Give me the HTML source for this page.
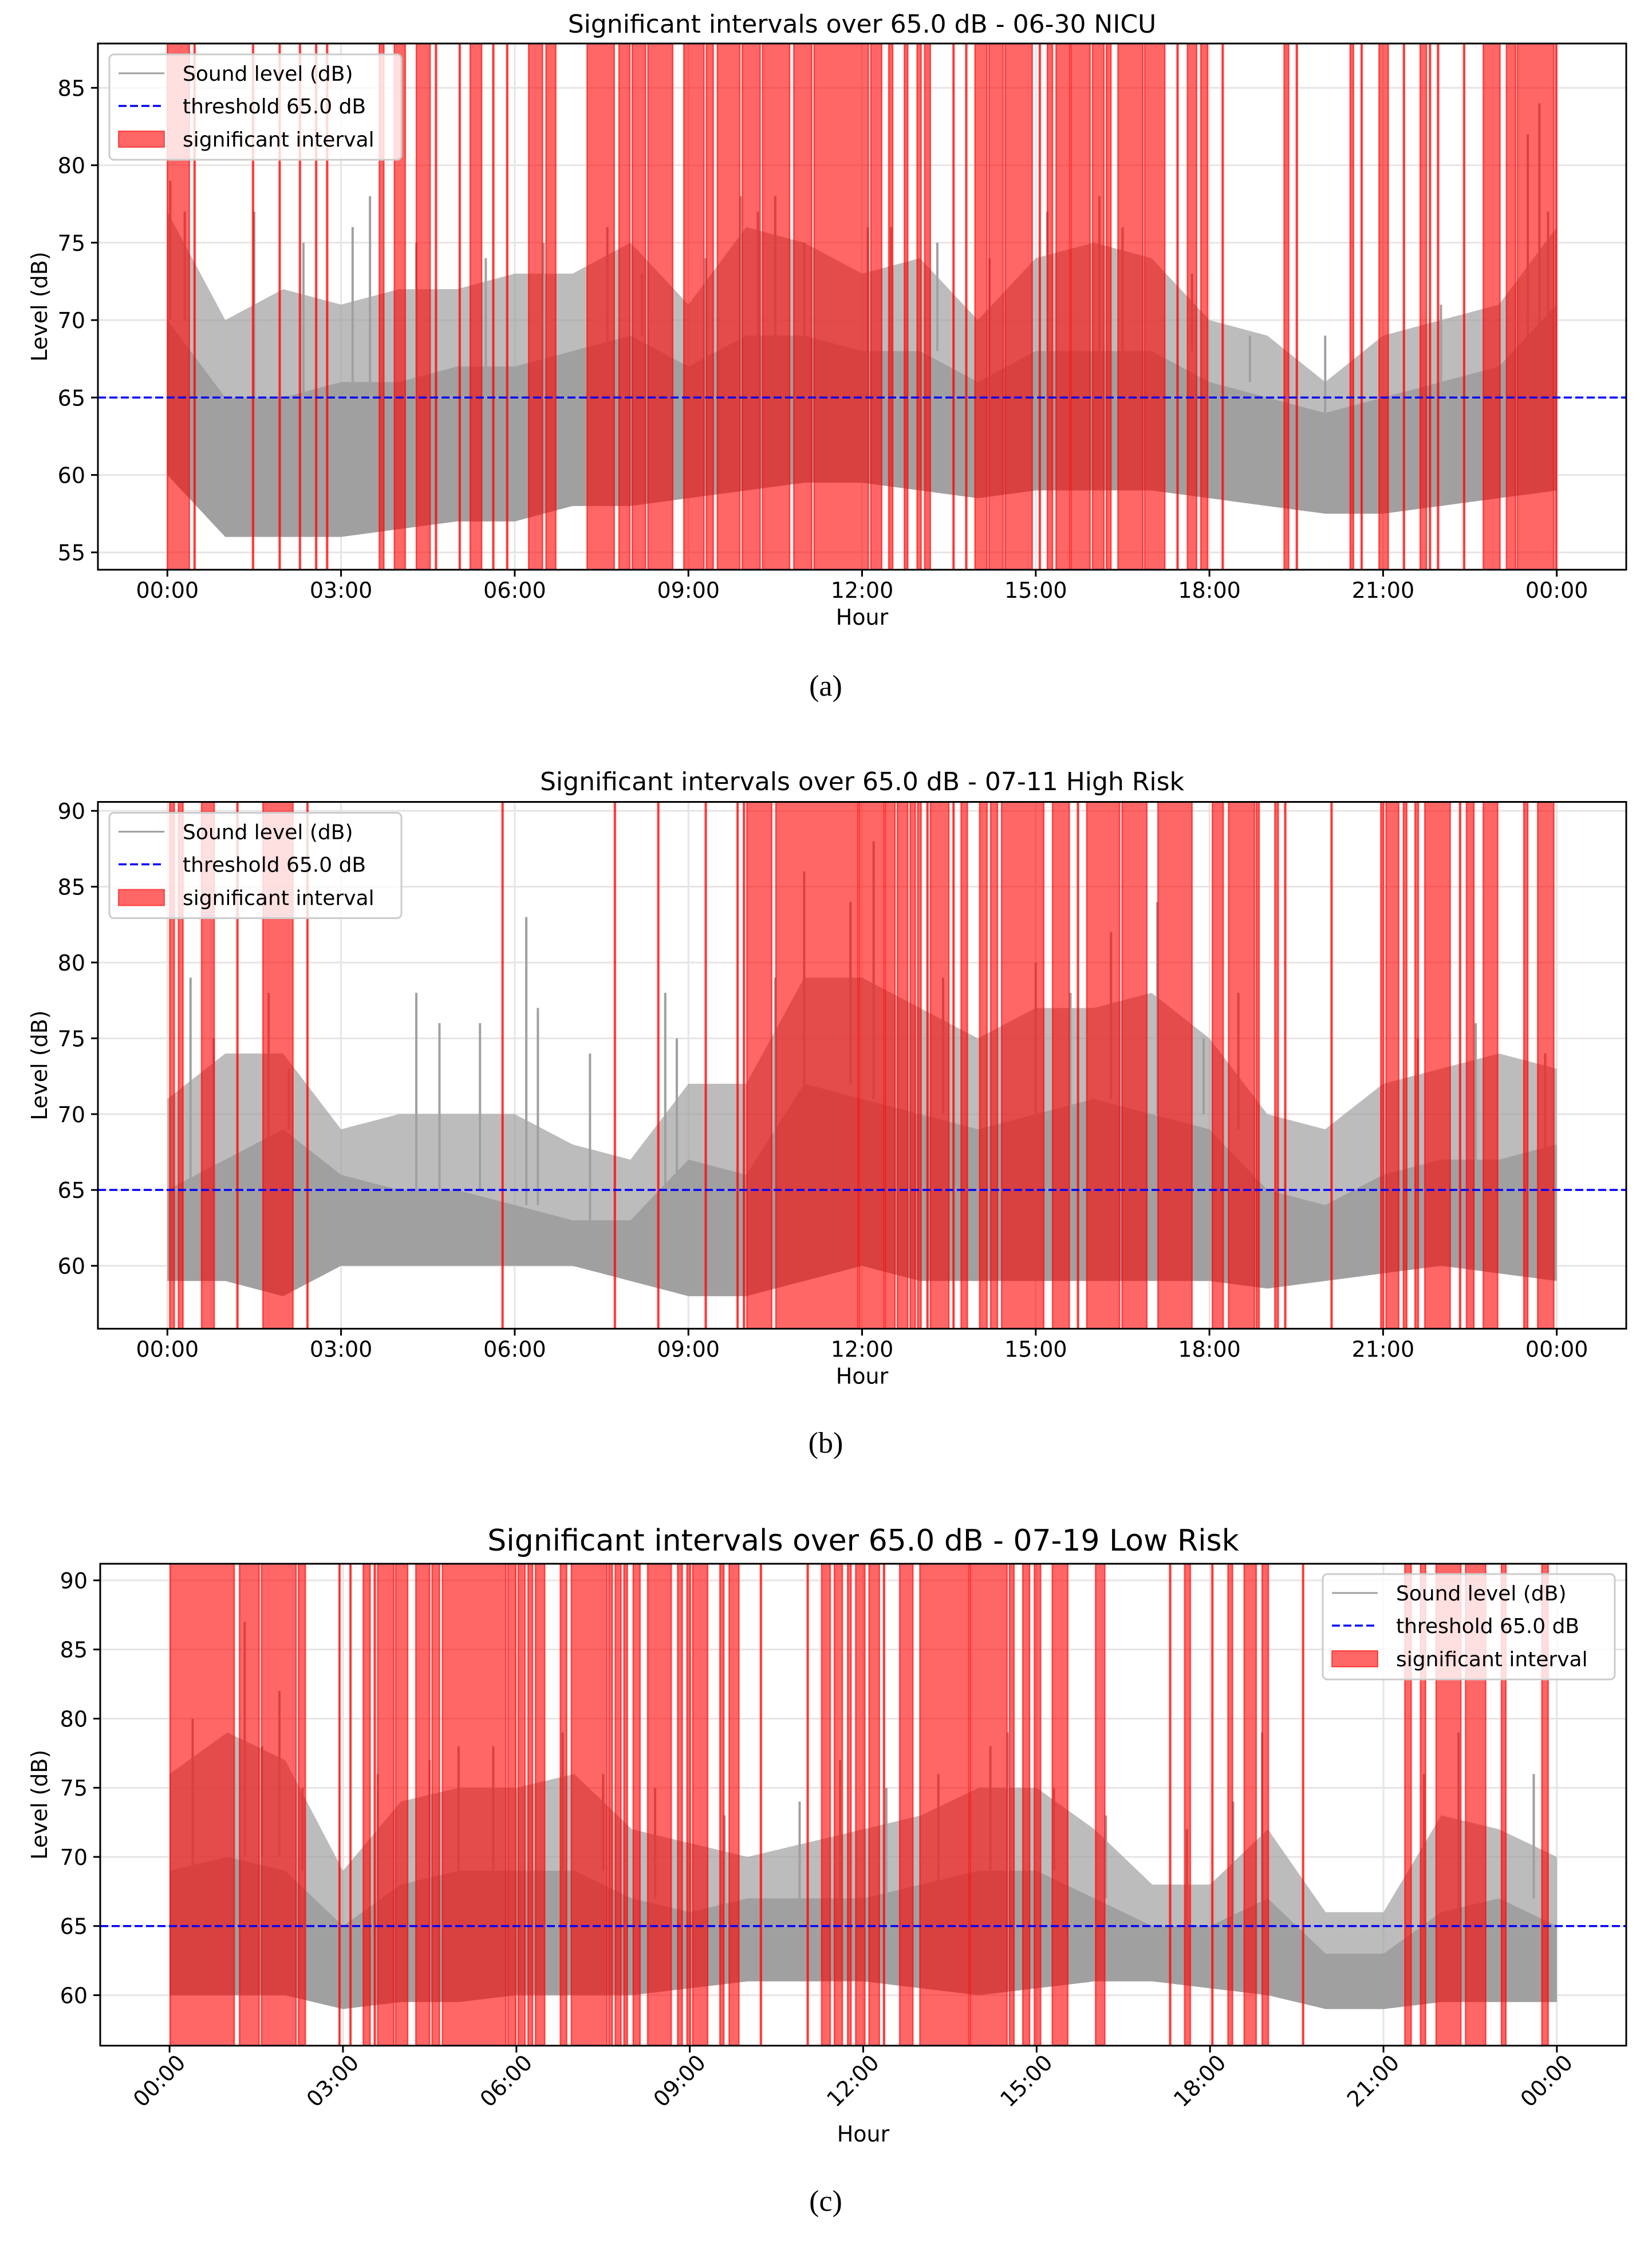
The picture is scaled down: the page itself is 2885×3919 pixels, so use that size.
<!DOCTYPE html>
<html><head><meta charset="utf-8">
<style>
html,body{margin:0;padding:0;background:#fff;}
svg{display:block;}
text{font-family:"DejaVu Sans","Liberation Sans",sans-serif;fill:#000;}
.cap{font-family:"Liberation Serif","DejaVu Serif",serif;}
</style></head>
<body>
<svg id="fig" xmlns="http://www.w3.org/2000/svg" width="2885" height="3919" viewBox="0 0 2885 3919"></svg>
<script>
// ---------- DATA ----------
const hours = [0,1,2,3,4,5,6,7,8,9,10,11,12,13,14,15,16,17,18,19,20,21,22,23,24];
const xTickLabels = ["00:00","03:00","06:00","09:00","12:00","15:00","18:00","21:00","00:00"];
const xTickHours = [0,3,6,9,12,15,18,21,24];
const threshold = 65;

// Panel (a) 06-30 NICU
const aLow  = [60,56,56,56,56.5,57,57,58,58,58.5,59,59.5,59.5,59,58.5,59,59,59,58.5,58,57.5,57.5,58,58.5,59];
const aMid  = [70,65,65,66,66,67,67,68,69,67,69,69,68,68,66,68,68,68,66,65,64,65,66,67,71];
const aHigh = [77,70,72,71,72,72,73,73,75,71,76,75,73,74,70,74,75,74,70,69,66,69,70,71,76];
const aSpikeH = [0.05,0.3,1.5,2.35,3.2,3.5,4.3,5.5,6.5,7.6,8.2,9.3,9.9,10.2,10.5,11.0,12.1,12.5,13.3,14.2,15.2,16.1,16.5,17.7,18.7,20.0,22.0,23.5,23.7,23.85];
const aSpikeV = [79,77,77,75,76,78,75,74,75,76,73,74,78,77,78,75,76,76,75,74,77,78,76,73,69,69,71,82,84,77];
const aStart = [0.0,0.46,1.47,1.93,2.28,2.56,2.75,3.66,3.92,4.30,4.63,5.04,5.23,5.62,5.86,6.24,6.54,7.25,7.80,8.03,8.30,8.92,9.31,9.50,9.93,10.28,10.82,11.17,12.15,12.46,12.73,12.95,13.08,13.57,13.79,13.95,14.19,14.47,15.06,15.20,15.35,15.61,15.98,16.22,16.42,16.88,17.44,17.62,17.85,18.22,19.29,19.50,20.43,20.62,20.93,21.35,21.64,21.80,21.94,22.39,22.73,23.13,23.32,23.98];
const aEnd   = [0.38,0.47,1.48,1.94,2.29,2.57,2.76,3.74,4.11,4.54,4.64,5.05,5.43,5.63,5.87,6.48,6.71,7.72,7.99,8.26,8.73,9.27,9.43,9.89,10.24,10.75,11.13,12.11,12.34,12.53,12.79,13.02,13.18,13.58,13.80,14.16,14.44,14.94,15.07,15.29,15.59,15.94,16.18,16.30,16.85,17.23,17.45,17.78,17.97,18.23,19.37,19.51,20.49,20.63,21.09,21.36,21.75,21.81,21.95,22.40,23.02,23.29,23.95,23.99];

// Panel (b) 07-11 High Risk
const bLow  = [59,59,58,60,60,60,60,60,59,58,58,59,60,59,59,59,59,59,59,58.5,59,59.5,60,59.5,59];
const bMid  = [65,67,69,66,65,65,64,63,63,67,66,72,71,70,69,70,71,70,69,65,64,66,67,67,68];
const bHigh = [71,74,74,69,70,70,70,68,67,72,72,79,79,77,75,77,77,78,75,70,69,72,73,74,73];
const bSpikeH = [0.4,0.8,1.75,2.1,4.3,4.7,5.4,6.2,6.4,7.3,8.6,8.8,10.5,11.0,11.8,12.2,13.4,15.0,15.6,16.3,17.1,17.9,18.5,21.6,22.6,23.8];
const bSpikeV = [79,75,78,73,78,76,76,83,77,74,78,75,79,86,84,88,79,80,78,82,84,75,78,75,76,74];
const bStart = [0.04,0.19,0.59,1.20,1.65,2.41,5.78,7.72,8.47,9.29,9.84,9.95,10.01,10.51,11.95,12.40,12.61,12.83,12.96,13.12,13.18,13.57,13.71,14.03,14.22,14.41,15.29,15.72,15.88,16.49,17.11,18.05,18.33,18.81,19.13,19.30,20.10,20.96,21.05,21.35,21.55,21.72,22.32,22.44,22.73,23.43,23.67];
const bEnd   = [0.12,0.27,0.81,1.21,2.17,2.42,5.79,7.73,8.48,9.30,9.85,9.96,10.44,11.93,12.38,12.57,12.79,12.92,13.02,13.13,13.50,13.58,13.82,14.16,14.34,15.14,15.58,15.73,16.45,16.92,17.70,18.24,18.78,18.86,19.19,19.31,20.11,21.01,21.27,21.41,21.61,22.16,22.33,22.57,22.98,23.50,23.95];

// Panel (c) 07-19 Low Risk
const cLow  = [60,60,60,59,59.5,59.5,60,60,60,60.5,61,61,61,60.5,60,60.5,61,61,60.5,60,59,59,59.5,59.5,59.5];
const cMid  = [69,70,69,65,68,69,69,69,67,66,67,67,67,68,69,69,67,65,65,67,63,63,66,67,65];
const cHigh = [76,79,77,69,74,75,75,76,72,71,70,71,72,73,75,75,72,68,68,72,66,66,73,72,70];
const cSpikeH = [0.4,1.3,1.6,1.9,2.3,3.6,4.5,5.0,5.6,6.8,7.5,8.4,9.6,10.9,11.6,12.4,13.3,14.2,14.5,15.3,16.2,17.6,18.4,18.9,21.7,22.3,23.6];
const cSpikeV = [80,87,78,82,75,76,77,78,78,79,76,75,73,74,77,75,76,78,79,75,73,72,74,79,76,79,76];
const cStart = [0.01,1.21,1.59,2.23,2.93,3.12,3.35,3.54,3.60,3.91,4.26,4.54,4.72,5.85,6.03,6.20,6.33,6.76,6.95,7.60,7.71,7.86,8.02,8.27,8.79,8.95,9.05,9.52,9.68,10.22,11.03,11.28,11.50,11.73,11.87,12.10,12.35,12.63,12.98,13.85,14.53,14.76,14.96,15.27,16.02,17.30,17.56,18.03,18.31,18.59,18.90,19.60,21.37,21.64,21.91,22.42,23.04,23.74];
const cEnd   = [1.12,1.55,2.19,2.35,2.94,3.13,3.47,3.55,3.88,4.12,4.50,4.67,5.82,5.99,6.15,6.28,6.49,6.87,7.57,7.66,7.81,7.92,8.14,8.68,8.87,9.01,9.31,9.59,9.85,10.23,11.04,11.43,11.64,11.79,12.03,12.28,12.36,12.86,13.83,14.49,14.61,14.88,15.07,15.54,16.18,17.31,17.66,18.04,18.39,18.80,19.01,19.61,21.48,21.73,22.34,22.77,23.12,23.85];

// ---------- RENDER ----------
const NS = "http://www.w3.org/2000/svg";
const fig = document.getElementById("fig");
function mk(tag, parent){ const e=document.createElementNS(NS,tag); parent.appendChild(e); return e; }
function sa(e,k,v){ e.setAttribute(k,v); }

const panels = [
 {id:"a", title:"Significant intervals over 65.0 dB - 06-30 NICU", tsize:44, titleY:57, L:171,R:2840,T:76,B:995, y0:53.88,y1:87.86, ticks:[55,60,65,70,75,80,85],
  low:aLow, mid:aMid, high:aHigh, sh:aSpikeH, sv:aSpikeV, st:aStart, en:aEnd, legend:"left", rot:false, caption:"(a)", capY:1215},
 {id:"b", title:"Significant intervals over 65.0 dB - 07-11 High Risk", tsize:44, titleY:1380, L:171,R:2840,T:1400.5,B:2320.5, y0:55.85,y1:90.59, ticks:[60,65,70,75,80,85,90],
  low:bLow, mid:bMid, high:bHigh, sh:bSpikeH, sv:bSpikeV, st:bStart, en:bEnd, legend:"left", rot:false, caption:"(b)", capY:2537},
 {id:"c", title:"Significant intervals over 65.0 dB - 07-19 Low Risk", tsize:52, titleY:2708, L:175,R:2840,T:2731,B:3572.6, y0:56.35,y1:91.2, ticks:[60,65,70,75,80,85,90],
  low:cLow, mid:cMid, high:cHigh, sh:cSpikeH, sv:cSpikeV, st:cStart, en:cEnd, legend:"right", rot:true, caption:"(c)", capY:3861}
];

panels.forEach(p=>{
  const g = mk("g", fig);
  
  
  const X = h => p.L + (h + 1.2) / 26.4 * (p.R - p.L);
  const Y = v => p.B - (v - p.y0) / (p.y1 - p.y0) * (p.B - p.T);

  p.ticks.forEach(t=>{
    const l = mk("line", g);
    
    
    sa(l,"x1",p.L); sa(l,"x2",p.R); sa(l,"y1",Y(t)); sa(l,"y2",Y(t)); sa(l,"stroke","#e5e5e5"); sa(l,"stroke-width",3);
  });
  xTickHours.forEach(h=>{
    const l = mk("line", g);
    
    
    sa(l,"x1",X(h)); sa(l,"x2",X(h)); sa(l,"y1",p.T); sa(l,"y2",p.B); sa(l,"stroke","#e5e5e5"); sa(l,"stroke-width",3);
  });

  let dPeak = "M"+X(hours[0])+","+Y(p.low[0]);
  hours.forEach((h,i)=>{ dPeak += " L"+X(h)+","+Y(p.high[i]); });
  for(let i=hours.length-1;i>=0;i--){ dPeak += " L"+X(hours[i])+","+Y(p.low[i]); }
  const pk = mk("path", g);
  
  
  sa(pk,"d",dPeak+"Z"); sa(pk,"fill","#a0a0a0"); sa(pk,"fill-opacity","0.7");
  let dBody = "M"+X(hours[0])+","+Y(p.low[0]);
  hours.forEach((h,i)=>{ dBody += " L"+X(h)+","+Y(p.mid[i]); });
  for(let i=hours.length-1;i>=0;i--){ dBody += " L"+X(hours[i])+","+Y(p.low[i]); }
  const bd = mk("path", g);
  
  
  sa(bd,"d",dBody+"Z"); sa(bd,"fill","#a0a0a0");
  p.sh.forEach((h,i)=>{
    const k = hours.findIndex(x=>x>h); const j = Math.max(0,k-1);
    const s = mk("line", g);
    
    
    sa(s,"x1",X(h)); sa(s,"x2",X(h)); sa(s,"y1",Y(p.mid[j])); sa(s,"y2",Y(p.sv[i])); sa(s,"stroke","#a0a0a0"); sa(s,"stroke-width",4);
  });

  p.st.forEach((s,i)=>{
    const r = mk("rect", g);
    
    
    const x1 = X(s), x2 = X(p.en[i]);
    sa(r,"x",x1); sa(r,"y",p.T); sa(r,"width",Math.max(2,x2-x1)); sa(r,"height",p.B-p.T);
    sa(r,"fill","#ff0000"); sa(r,"fill-opacity","0.6"); sa(r,"stroke","#ff0000"); sa(r,"stroke-opacity","0.6"); sa(r,"stroke-width",2.5);
  });

  const th = mk("line", g);
  
  
  sa(th,"x1",p.L); sa(th,"x2",p.R); sa(th,"y1",Y(threshold)); sa(th,"y2",Y(threshold)); sa(th,"stroke","#0000ff"); sa(th,"stroke-width",3.5); sa(th,"stroke-dasharray","14,6");

  const fr = mk("rect", g);
  
  
  sa(fr,"x",p.L); sa(fr,"y",p.T); sa(fr,"width",p.R-p.L); sa(fr,"height",p.B-p.T); sa(fr,"fill","none"); sa(fr,"stroke","#000"); sa(fr,"stroke-width",3);

  p.ticks.forEach(t=>{
    const tk = mk("line", g);
    
    
    sa(tk,"x1",p.L-12); sa(tk,"x2",p.L); sa(tk,"y1",Y(t)); sa(tk,"y2",Y(t)); sa(tk,"stroke","#000"); sa(tk,"stroke-width",3);
    const tx = mk("text", g);
    
    
    sa(tx,"x",p.L-22); sa(tx,"y",Y(t)+14); sa(tx,"text-anchor","end"); sa(tx,"font-size",38);
    tx.textContent = String(t);
  });
  xTickHours.forEach((h,i)=>{
    const tk = mk("line", g);
    
    
    sa(tk,"x1",X(h)); sa(tk,"x2",X(h)); sa(tk,"y1",p.B); sa(tk,"y2",p.B+12); sa(tk,"stroke","#000"); sa(tk,"stroke-width",3);
    const tx = mk("text", g);
    
    
    sa(tx,"font-size",38);
    if(p.rot){
      sa(tx,"text-anchor","end");
      sa(tx,"transform","translate("+(X(h)+30)+","+(p.B+32)+") rotate(-45)");
    } else {
      sa(tx,"x",X(h)); sa(tx,"y",p.B+49); sa(tx,"text-anchor","middle");
    }
    tx.textContent = xTickLabels[i];
  });

  const xl = mk("text", g);
  
  
  sa(xl,"x",(p.L+p.R)/2); sa(xl,"y",p.rot ? 3740 : p.B+96); sa(xl,"text-anchor","middle"); sa(xl,"font-size",38);
  xl.textContent = "Hour";
  const yl = mk("text", g);
  
  
  sa(yl,"text-anchor","middle"); sa(yl,"font-size",38);
  sa(yl,"transform","translate(82,"+((p.T+p.B)/2)+") rotate(-90)");
  yl.textContent = "Level (dB)";
  const tt = mk("text", g);
  
  
  sa(tt,"x",(p.L+p.R)/2); sa(tt,"y",p.titleY); sa(tt,"text-anchor","middle"); sa(tt,"font-size",p.tsize);
  tt.textContent = p.title;
  const cp = mk("text", g);
  
  
  sa(cp,"class","cap"); sa(cp,"x",1442); sa(cp,"y",p.capY); sa(cp,"text-anchor","middle"); sa(cp,"font-size",52);
  cp.textContent = p.caption;

  const lx = p.legend==="left" ? 191 : 2310;
  const ly = p.legend==="left" ? p.T+19 : p.T+18;
  const lg = mk("g", g);
  
  
  const lb = mk("rect", lg);
  
  
  sa(lb,"x",lx); sa(lb,"y",ly); sa(lb,"width",510); sa(lb,"height",184); sa(lb,"rx",8);
  sa(lb,"fill","#fff"); sa(lb,"fill-opacity","0.8"); sa(lb,"stroke","#cccccc"); sa(lb,"stroke-width",3);
  const rows = [ly+33, ly+90, ly+148];
  const l1 = mk("line", lg);
  
  
  sa(l1,"x1",lx+16); sa(l1,"x2",lx+96); sa(l1,"y1",rows[0]); sa(l1,"y2",rows[0]); sa(l1,"stroke","#a0a0a0"); sa(l1,"stroke-width",3);
  const l2 = mk("line", lg);
  
  
  sa(l2,"x1",lx+16); sa(l2,"x2",lx+96); sa(l2,"y1",rows[1]); sa(l2,"y2",rows[1]); sa(l2,"stroke","#0000ff"); sa(l2,"stroke-width",3.5); sa(l2,"stroke-dasharray","14,6");
  const l3 = mk("rect", lg);
  
  
  sa(l3,"x",lx+16); sa(l3,"y",rows[2]-14); sa(l3,"width",80); sa(l3,"height",28); sa(l3,"fill","#ff0000"); sa(l3,"fill-opacity","0.6"); sa(l3,"stroke","#ff0000"); sa(l3,"stroke-opacity","0.6"); sa(l3,"stroke-width",2);
  ["Sound level (dB)","threshold 65.0 dB","significant interval"].forEach((s,i)=>{
    const t = mk("text", lg);
    
    
    sa(t,"x",lx+128); sa(t,"y",rows[i]+13); sa(t,"font-size",36);
    t.textContent = s;
  });
});
</script>
</body></html>
